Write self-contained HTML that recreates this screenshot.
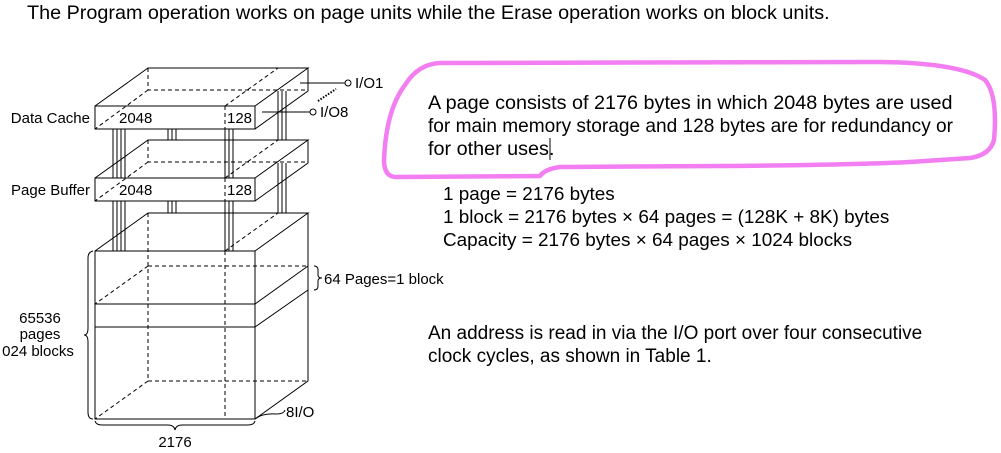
<!DOCTYPE html>
<html><head><style>
body{margin:0;width:1001px;height:453px;background:#fff;overflow:hidden;font-family:"Liberation Sans",sans-serif;}
svg{position:absolute;left:0;top:0}
text{font-family:"Liberation Sans",sans-serif;fill:#000}
</style></head><body>
<svg width="1001" height="453" viewBox="0 0 1001 453">
<text x="27" y="19" font-size="19.8">The Program operation works on page units while the Erase operation works on block units.</text>
<g stroke="#000" stroke-width="1" fill="none">
<path d="M113 129V178M117 129V178M121 129V178M125 129V178"/>
<path d="M168 129V140M172 129V140M176 129V140"/>
<path d="M225 129V178M229 129V178M233 129V178"/>
<path d="M278 91V140M282 91V140M286 91V140"/>
<path d="M113 201V251M117 201V251M121 201V251M125 201V251"/>
<path d="M168 201V213M172 201V213M176 201V213"/>
<path d="M225 201V251M229 201V251M233 201V251"/>
<path d="M278 163V213M282 163V213M286 163V213"/>
<rect x="95" y="106" width="160" height="23" fill="#fff"/>
<path d="M95 106L148 68H308L255 106M255 129L308 91V68"/>
<path d="M148 68V90H308M148 90L95 129M225 106L278 68M225 106V129" stroke-dasharray="4,3"/>
<rect x="95" y="178" width="160" height="23" fill="#fff"/>
<path d="M95 178L148 140H308L255 178M255 201L308 163V140"/>
<path d="M148 140V162H308M148 162L95 201M225 178L278 140M225 178V201" stroke-dasharray="4,3"/>
<rect x="95" y="251" width="160" height="168" fill="#fff"/>
<path d="M95 251L148 213H308L255 251M255 419L308 381V213"/>
<path d="M95 304H255L308 266M95 327H255L308 290"/>
<path d="M148 213V381H308M148 381L95 419M148 266H308M148 266L95 304M225 251L278 213M225 251V419" stroke-dasharray="4,3"/>
<path d="M300 83H345M262 112H310"/>
<circle cx="348" cy="83" r="3"/><circle cx="313" cy="112" r="3"/>
<path d="M318 101L336 89" stroke-dasharray="1.5,1.5" stroke-width="2"/>
<path d="M93 251Q88 252 88 258V328Q88 335 84 335Q88 335 88 342V412Q88 419 93 419"/>
<path d="M95 421Q96 425 102 425H168Q174 425 175 430Q176 425 182 425H248Q254 425 255 421"/>
<path d="M314 266Q318 266 318 270V275Q318 278 322 278Q318 278 318 281V286Q318 290 314 290"/>
<path d="M255 419Q262 413 276 414Q284 414 285 410"/>
</g>
<g font-size="15">
<text x="90" y="123" text-anchor="end">Data Cache</text>
<text x="90" y="195" text-anchor="end">Page Buffer</text>
<text x="119" y="123">2048</text><text x="227" y="123">128</text>
<text x="119" y="195">2048</text><text x="227" y="195">128</text>
<text x="355" y="88">I/O1</text><text x="320" y="117">I/O8</text>
<text x="324" y="284">64 Pages=1 block</text>
<text x="40" y="323" text-anchor="middle">65536</text>
<text x="40" y="339" text-anchor="middle">pages</text>
<text x="38" y="356" text-anchor="middle">024 blocks</text>
<text x="286" y="417">8I/O</text>
<text x="175" y="447" text-anchor="middle">2176</text>
</g>
<path d="M395 177Q384 176 384 160Q386 110 405 85Q418 64 440 63L880 62Q960 63 985 80Q998 95 994 140Q990 155 970 158L910 162Q850 165 720 166L560 167Q545 169 540 176L395 177Z" fill="none" stroke="#f27ef2" stroke-width="4.5" stroke-linejoin="round"/>
<g font-size="19.8">
<text x="428" y="109">A page consists of 2176 bytes in which 2048 bytes are used</text>
<text x="428" y="132" textLength="525" lengthAdjust="spacingAndGlyphs">for main memory storage and 128 bytes are for redundancy or</text>
<text x="428" y="155">for other uses.</text>
</g>
<g font-size="18.9">
<text x="443" y="200">1 page = 2176 bytes</text>
<text x="443" y="223">1 block = 2176 bytes × 64 pages = (128K + 8K) bytes</text>
<text x="443" y="246">Capacity = 2176 bytes × 64 pages × 1024 blocks</text>
</g>
<g font-size="19">
<text x="428" y="339">An address is read in via the I/O port over four consecutive</text>
<text x="428" y="362">clock cycles, as shown in Table 1.</text>
</g>
<path d="M550 138V160" stroke="#000" stroke-width="1"/>
</svg>
</body></html>
